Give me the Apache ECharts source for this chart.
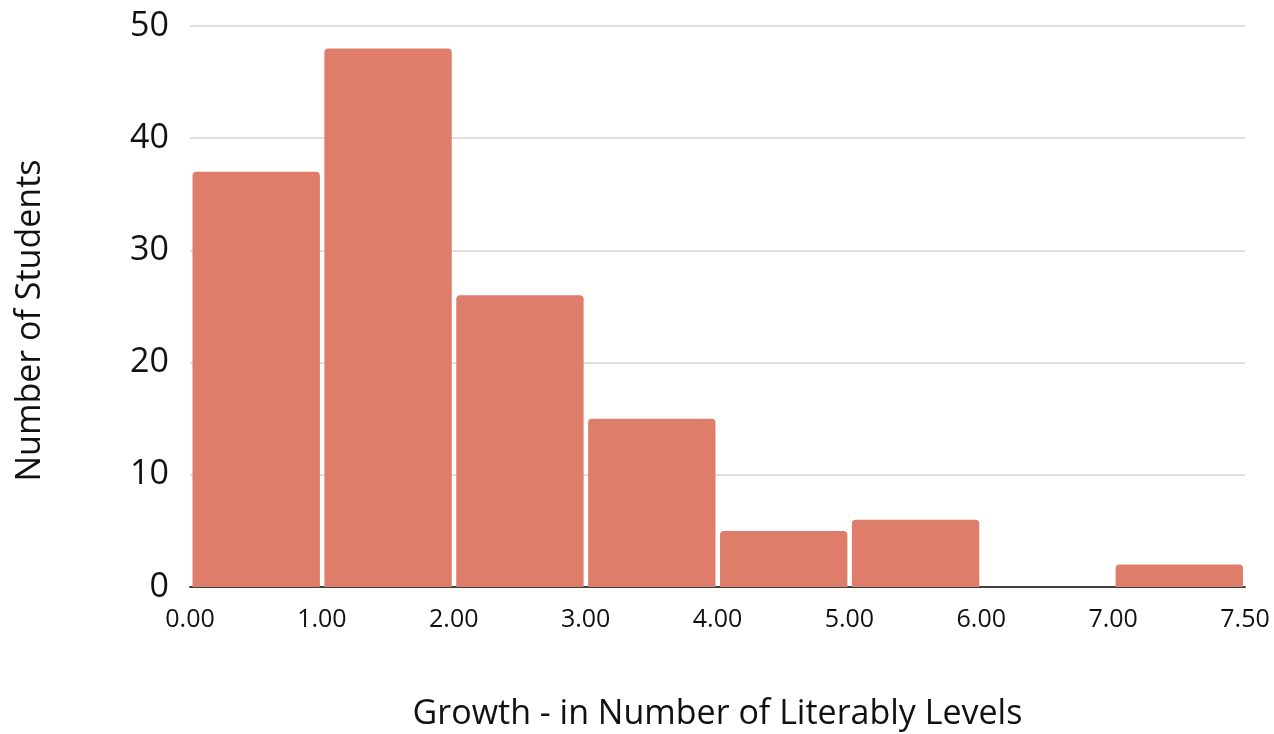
<!DOCTYPE html>
<html>
<head>
<meta charset="utf-8">
<script src="https://cdn.jsdelivr.net/npm/echarts@6/dist/echarts.min.js"></script>
<style>
html,body{margin:0;padding:0;background:#fff;}
#chart{width:1274px;height:734px;}
</style>
</head>
<body>
<div id="chart"></div>
<script>
// Histogram bins (bin index i spans tick i to tick i+1)
const binLabels = ["0.00-1.00","1.00-2.00","2.00-3.00","3.00-4.00","4.00-5.00","5.00-6.00","6.00-7.00","7.00-7.50"];
const counts = [37, 48, 26, 15, 5, 6, 0, 2];
const xTickLabels = ["0.00","1.00","2.00","3.00","4.00","5.00","6.00","7.00","7.50"];
const yTicks = [0, 10, 20, 30, 40, 50];

const FONT = '"Open Sans", "Noto Sans", sans-serif';
const chart = echarts.init(document.getElementById('chart'), null, {renderer: 'canvas'});

const seriesData = counts.map((c, i) => [i, i + 1, c, binLabels[i]]);

chart.setOption({
  animation: false,
  backgroundColor: '#ffffff',
  grid: {left: 190, right: 29, top: 26, bottom: 147, containLabel: false, outerBoundsMode: 'none'},
  xAxis: {
    type: 'value',
    min: 0, max: xTickLabels.length - 1, interval: 1,
    name: 'Growth - in Number of Literably Levels',
    nameLocation: 'middle',
    nameGap: 110,
    nameTextStyle: {fontFamily: FONT, fontSize: 34, color: '#111'},
    axisLine: {show: true, lineStyle: {color: '#404040', width: 2}},
    axisTick: {show: false},
    splitLine: {show: false},
    axisLabel: {
      fontFamily: FONT, fontSize: 25, color: '#111', margin: 20,
      formatter: v => xTickLabels[Math.round(v)]
    }
  },
  yAxis: {
    type: 'value',
    min: yTicks[0], max: yTicks[yTicks.length - 1], interval: 10,
    name: 'Number of Students',
    nameLocation: 'middle',
    nameGap: 143,
    nameTextStyle: {fontFamily: FONT, fontSize: 34, color: '#111', padding: [0, 28, 0, 0]},
    axisLine: {show: false},
    axisTick: {show: false},
    splitLine: {show: true, lineStyle: {color: '#d4d4d4', width: 1.5}},
    axisLabel: {fontFamily: FONT, fontSize: 34, color: '#111', margin: 21}
  },
  series: [{
    type: 'custom',
    data: seriesData,
    encode: {x: [0, 1], y: 2},
    renderItem: function (params, api) {
      const x0 = api.value(0), x1 = api.value(1), v = api.value(2);
      if (!v) return null;
      const p0 = api.coord([x0, v]);
      const p1 = api.coord([x1, 0]);
      return {
        type: 'rect',
        shape: {x: p0[0] + 2.5, y: p0[1], width: p1[0] - p0[0] - 4.5, height: p1[1] - p0[1], r: [4, 4, 0, 0]},
        style: {fill: '#DD7D6A'}
      };
    }
  }]
});
</script>
</body>
</html>
